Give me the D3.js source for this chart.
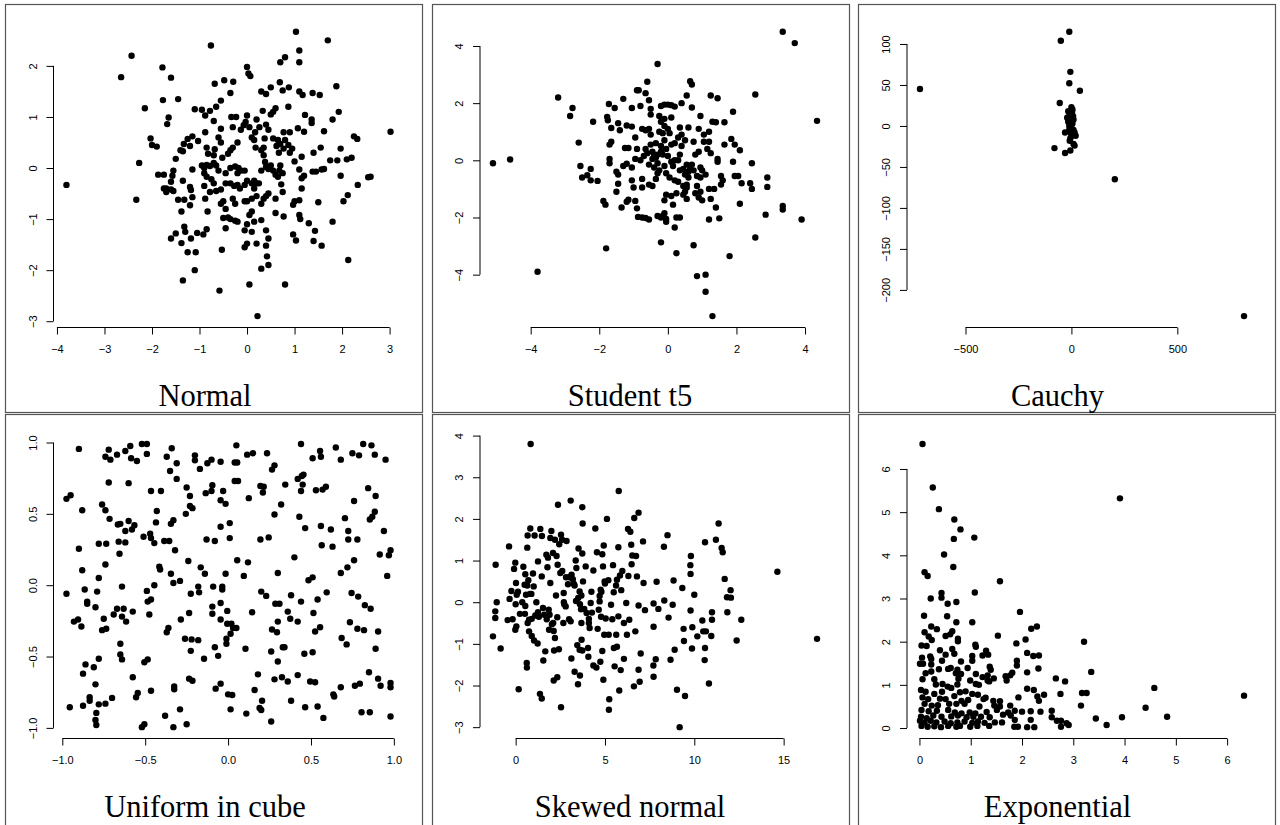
<!DOCTYPE html>
<html>
<head>
<meta charset="utf-8">
<script src="https://cdn.jsdelivr.net/npm/d3@7"></script>
<style>
  body { margin: 0; background: #fff; }
  svg { display: block; }
</style>
</head>
<body>
<script>
//**********************************
// data
//**********************************
var normalPts = [
[-3.8,-0.33],[-2.43,2.2],[-2.65,1.78],[-2.33,-0.62],[-2.27,0.1],[-2.15,1.17],[-0.76,2.4],[1.03,2.67],[1.7,2.5],[1.1,2.3],[1.1,2.07],[0.8,2.17],[0.7,2.07],[-1.78,1.97],[-1.6,1.77],[-1.77,1.33],[-1.45,1.35],[0,1.98],[0.03,1.85],[0.07,1.8],[-0.48,1.72],[-0.68,1.65],[-0.29,1.69],[-0.35,1.47],[-0.55,1.32],[-0.65,1.2],[-0.78,1.12],[-1.1,1.15],[-0.95,1.14],[-0.88,1.03],[-0.7,0.92],[-0.33,1.0],[-0.23,1.0],[-0.3,0.8],[0,1.03],[-0.03,0.9],[-0.07,0.84],[0.2,0.95],[0.3,1.5],[0.4,1.45],[0.5,1.58],[0.69,1.68],[0.75,1.52],[0.88,1.58],[1.1,1.5],[1.17,1.43],[1.38,1.47],[1.53,1.43],[1.88,1.6],[1.93,1.1],[1.8,0.95],[1.62,0.72],[1.22,1.04],[1.36,0.95],[1.36,0.88],[1.2,0.71],[1.07,0.78],[0.87,1.2],[0.6,1.17],[0.55,1.1],[0.33,1.12],[0.5,1.05],[0.4,0.85],[0.26,0.8],[0.17,0.7],[0.15,0.55],[0.45,0.75],[0.37,0.58],[0.55,0.58],[0.65,0.55],[0.7,0.47],[0.77,0.7],[0.77,0.38],[0.9,0.7],[0.87,0.45],[0.95,0.38],[0.9,0.3],[0.8,0.55],[0.62,0.43],[0.67,0.3],[0.35,0.4],[0.35,0.25],[0.38,0.12],[0.4,0.02],[0.5,0.05],[0.55,-0.05],[0.6,-0.13],[0.68,-0.05],[0.75,-0.1],[0.7,0.05],[1.0,0.13],[1.1,-0.03],[1.15,-0.2],[1.2,-0.15],[1.15,0.22],[1.4,0.3],[1.55,0.4],[1.38,-0.07],[1.45,-0.07],[1.57,-0.03],[1.62,-0.02],[1.75,0.15],[1.9,0.15],[1.97,0.38],[2.25,0.62],[2.32,0.57],[2.1,0.17],[2.2,0.2],[1.97,-0.15],[2.33,-0.33],[2.55,-0.18],[2.6,-0.17],[3.02,0.71],[2.12,-0.53],[2.03,-0.65],[2.13,-1.8],[1.8,-1.05],[1.5,-0.67],[1.3,-1.08],[1.43,-1.23],[1.4,-1.43],[1.57,-1.52],[1.1,-0.92],[1.12,-1.0],[1.1,-0.63],[1.15,-0.4],[0.97,-0.72],[1.0,-0.65],[0.97,-1.3],[1.03,-1.42],[0.77,-0.95],[0.6,-0.88],[0.6,-0.6],[0.72,-0.32],[0.75,-0.47],[0.65,-0.17],[0.4,-0.55],[0.45,-0.5],[0.35,-0.6],[0.2,-0.3],[0.25,-0.3],[0.15,-0.25],[0.1,-0.3],[0,-0.25],[-0.05,-0.33],[-0.15,-0.4],[-0.2,-0.33],[-0.27,-0.35],[-0.35,-0.3],[-0.45,-0.3],[-0.55,-0.42],[-0.65,-0.45],[-0.78,-0.47],[-0.7,-0.3],[-0.75,-0.22],[-0.85,-0.17],[-0.9,-0.35],[-0.5,-0.65],[-0.55,-0.7],[-0.3,-0.6],[-0.25,-0.7],[-0.45,-0.8],[-0.5,-0.98],[-0.4,-0.97],[-0.35,-1.0],[-0.25,-1.03],[-0.45,-1.18],[-0.88,-0.6],[-0.83,-0.85],[-0.85,-1.2],[-0.92,-1.3],[-1.05,-1.27],[-1.08,-1.65],[-1.1,-2.0],[-1.35,-2.2],[-1.25,-1.65],[-1.38,-1.47],[-1.5,-1.28],[-1.6,-1.38],[-1.18,-1.38],[-1.3,-1.25],[-1.32,-1.15],[-1.38,-0.85],[-1.45,-0.62],[-1.32,-0.62],[-1.15,-0.57],[-1.2,-0.37],[-1.18,-0.43],[-1.2,-0.73],[-1.35,-0.25],[-1.55,-0.45],[-1.6,-0.42],[-1.6,-0.27],[-1.57,-0.15],[-1.55,-0.05],[-1.7,-0.4],[-1.75,-0.4],[-1.87,-0.13],[-1.75,-0.13],[-1.7,-0.47],[-2.0,0.45],[-2.03,0.58],[-1.9,0.42],[-1.65,0.99],[-1.68,0.86],[-1.5,0.18],[-1.4,0.35],[-1.35,0.33],[-1.33,0.47],[-1.25,0.57],[-1.15,0.62],[-1.2,0.43],[-1.15,-0.03],[-1.03,0.53],[-0.88,0.7],[-0.85,0.4],[-0.82,0.28],[-0.78,0.04],[-0.85,0.06],[-0.95,0.05],[-0.9,0.0],[-0.9,-0.1],[-0.7,0.1],[-0.7,0.25],[-0.68,0.37],[-0.6,0.6],[-0.55,0.77],[-0.55,0.5],[-0.52,0.2],[-0.6,-0.05],[-0.65,0.05],[-0.45,-0.1],[-0.4,0.28],[-0.35,0.35],[-0.3,0.4],[-0.35,0.0],[-0.25,0.03],[-0.18,0.0],[-0.12,-0.05],[-0.2,-0.1],[-0.05,-0.05],[-0.2,0.5],[-0.13,0.75],[0.1,0.6],[0.05,0.8],[0.18,0.4],[0.3,0.35],[0.3,-0.05],[0.45,-0.02],[0.3,-0.7],[0.2,-0.55],[0.15,-0.4],[0.1,-0.6],[0,-0.65],[-0.05,-0.65],[0.1,-0.85],[0.05,-0.92],[0.15,-1.05],[0.3,-1.02],[0.4,-1.22],[0.45,-1.38],[0.4,-1.52],[0.42,-1.73],[0.45,-1.9],[0.3,-1.97],[0.2,-1.48],[0.1,-1.25],[-0.05,-1.22],[0,-1.1],[0,-1.48],[-0.05,-1.55],[0.05,-2.28],[0.22,-2.9],[0.8,-2.28],[-0.58,-2.4],[-0.53,-1.6],[-0.2,-1.05]
];

var studentPts = [
[-5.1,-0.1],[-4.6,0.03],[-3.8,-3.9],[-3.2,2.2],[-2.85,1.55],[-2.78,1.83],[-2.6,0.62],[-2.55,-0.2],[-2.5,-0.6],[-2.35,-0.52],[-2.25,-0.3],[-2.18,1.35],[-2.25,-0.7],[-2.05,-0.72],[-1.88,-1.42],[-1.82,-1.55],[-1.8,-3.08],[-1.77,1.52],[-1.75,1.4],[-1.72,1.97],[-1.7,0.55],[-1.65,0.65],[-1.7,0.05],[-1.7,-0.1],[-1.65,1.13],[-1.55,1.83],[-1.45,1.3],[-1.4,1.05],[-1.5,-0.4],[-1.45,-0.5],[-1.45,-0.82],[-1.5,-1.1],[-1.35,-1.65],[-1.3,2.15],[-1.2,1.22],[-1.25,0.43],[-1.15,0.43],[-1.3,-0.2],[-1.2,-0.12],[-1.15,-1.38],[-1.2,-1.45],[-1.05,1.83],[-1.05,1.18],[-0.95,0.8],[-0.9,2.45],[-0.85,2.45],[-0.8,1.9],[-0.9,0.4],[-0.95,0.05],[-1.05,-0.25],[-1.05,-0.7],[-1.0,-0.95],[-0.95,-1.42],[-0.9,-1.68],[-0.87,-1.98],[-0.75,-2.0],[-0.65,-2.02],[-0.55,-2.07],[-0.75,-0.65],[-0.75,-0.95],[-0.75,1.1],[-0.65,1.05],[-0.65,2.35],[-0.6,2.75],[-0.55,2.1],[-0.5,1.8],[-0.5,1.6],[-0.55,1.1],[-0.5,0.9],[-0.8,0.0],[-0.7,0.15],[-0.65,0.4],[-0.6,0.25],[-0.55,-0.15],[-0.5,0.55],[-0.45,0.3],[-0.45,0.05],[-0.4,-0.25],[-0.35,0.6],[-0.35,0.1],[-0.3,-0.1],[-0.3,-0.45],[-0.35,-0.65],[-0.55,-0.85],[-0.45,-0.9],[-0.3,3.37],[-0.25,1.55],[-0.2,1.9],[-0.1,1.95],[0,1.95],[0.1,1.93],[0.2,1.88],[0.4,2.0],[0.55,2.27],[0.65,2.77],[0.7,2.65],[0.7,1.85],[0.95,1.55],[1.25,2.27],[1.45,2.17],[-0.2,1.35],[-0.1,1.45],[0.1,1.5],[-0.1,1.2],[-0.25,1.0],[-0.15,0.95],[0,1.1],[0.05,0.95],[0.35,1.15],[0.6,1.15],[0.4,0.9],[0.3,0.8],[0.5,0.7],[0.2,0.6],[0.1,0.55],[-0.1,0.7],[-0.05,0.4],[-0.2,0.5],[-0.15,0.2],[0,0.15],[0.1,-0.05],[0.15,-0.2],[-0.1,-0.2],[-0.05,-0.45],[0.05,-0.6],[0.2,-0.7],[0.3,-0.75],[0.45,-0.3],[0.5,-0.5],[0.55,-0.15],[0.65,-0.3],[0.6,-0.6],[0.55,-0.85],[0.45,-0.9],[0.5,-1.1],[0.55,-1.35],[0.45,-1.2],[0.25,-1.15],[0.1,-1.25],[0.15,-1.55],[-0.05,-1.2],[-0.1,-1.4],[-0.1,-1.85],[-0.15,-1.95],[-0.2,-2.0],[-0.3,-1.95],[-0.05,-2.05],[-0.05,-2.15],[0.25,-2.0],[0.35,-2.0],[0.2,-2.35],[-0.2,-2.87],[0.25,-3.25],[0.75,-2.97],[0.85,-4.05],[1.1,-4.0],[1.1,-4.6],[1.3,-5.45],[1.8,-3.35],[0.7,-0.15],[0.75,-0.35],[0.85,-0.55],[0.95,-0.25],[1.0,-0.35],[0.95,-0.6],[0.85,-0.9],[0.8,-1.15],[0.9,-1.3],[1.0,-1.4],[0.95,-1.1],[1.1,-0.5],[0.8,0.2],[0.9,0.3],[0.75,0.65],[0.9,1.1],[1.05,0.9],[1.05,0.65],[1.2,0.65],[1.2,1.0],[1.15,0.4],[1.25,0.25],[1.3,1.35],[1.4,1.33],[1.45,0.05],[1.45,-0.05],[1.55,-0.55],[1.6,-0.7],[1.55,-0.85],[1.65,0.55],[1.65,1.33],[1.85,0.75],[1.9,1.7],[1.95,0.55],[1.9,-0.05],[1.95,-0.55],[2.05,-0.55],[2.1,0.35],[2.15,-0.8],[2.1,-1.52],[1.2,-1.0],[1.35,-1.0],[1.25,-1.35],[1.4,-1.65],[1.2,-2.07],[1.5,-2.03],[2.45,-0.1],[2.4,-0.8],[2.45,-1.0],[2.55,2.3],[2.55,-2.7],[2.85,-1.9],[2.9,-0.6],[2.9,-0.93],[3.35,-1.6],[3.35,-1.72],[3.35,4.5],[3.7,4.1],[3.9,-2.07],[4.35,1.38],[-0.4,0.2],[-0.3,0.2],[-0.25,-0.35],[-0.2,0.3],[0.3,0.0],[0.35,-0.35],[0.4,0.5],[0.35,0.2],[0.55,-0.95],[0.6,-0.4],[0.2,0.0]
];

var cauchyPts = [
[-715,45],[-10,115],[-50,104],[-5,66],[-10,52],[40,43],[-55,28],[0,23],[-15,18],[0,15],[-10,12],[-20,10],[10,8],[-5,6],[5,3],[-10,0],[0,-2],[10,-5],[-10,-5],[-30,-8],[15,-8],[0,-12],[20,-12],[-5,-15],[10,-22],[15,-24],[-80,-27],[-5,-30],[-30,-33],[205,-65],[815,-232],[5,20],[-5,0],[5,-10],[-15,5],[0,8],[-8,-18],[8,12],[-3,-8],[3,17]
];

var uniformPts = [
[-0.9,0.955],[-0.72,0.95],[-0.74,0.9],[-0.71,0.88],[-0.67,0.915],[-0.62,0.94],[-0.59,0.975],[-0.585,0.89],[-0.55,0.87],[-0.52,0.99],[-0.49,0.99],[-0.49,0.92],[-0.37,0.9],[-0.34,0.96],[-0.35,0.8],[-0.31,0.855],[-0.31,0.745],[-0.2,0.91],[-0.2,0.875],[-0.17,0.815],[-0.125,0.855],[-0.1,0.88],[-0.045,0.865],[0.04,0.86],[0.055,0.86],[0.05,0.98],[0.04,0.73],[0.06,0.73],[0.115,0.915],[0.15,0.925],[0.235,0.925],[0.265,0.81],[0.28,0.84],[0.44,0.99],[0.51,0.89],[0.555,0.94],[0.56,0.9],[0.65,0.965],[0.68,0.88],[0.75,0.925],[0.79,0.91],[0.815,0.99],[0.865,0.98],[0.885,0.915],[0.95,0.88],
[-0.975,0.605],[-0.95,0.63],[-0.88,0.525],[-0.76,0.565],[-0.74,0.525],[-0.72,0.72],[-0.715,0.465],[-0.665,0.425],[-0.65,0.43],[-0.6,0.715],[-0.6,0.45],[-0.62,0.38],[-0.58,0.39],[-0.565,0.42],[-0.465,0.66],[-0.43,0.52],[-0.435,0.44],[-0.405,0.66],[-0.33,0.455],[-0.345,0.43],[-0.255,0.5],[-0.25,0.685],[-0.23,0.625],[-0.23,0.555],[-0.215,0.54],[-0.135,0.645],[-0.1,0.66],[-0.095,0.7],[-0.045,0.595],[-0.03,0.66],[-0.015,0.57],[-0.045,0.41],[0.01,0.435],[0.125,0.61],[0.195,0.695],[0.215,0.69],[0.21,0.65],[0.345,0.705],[0.32,0.565],[0.28,0.495],[0.43,0.48],[0.44,0.66],[0.445,0.765],[0.455,0.775],[0.45,0.705],[0.42,0.745],[0.465,0.4],[0.53,0.665],[0.56,0.415],[0.57,0.67],[0.59,0.69],[0.565,0.28],[0.62,0.39],[0.705,0.47],[0.725,0.38],[0.76,0.59],[0.78,0.32],[0.845,0.68],[0.855,0.46],[0.87,0.48],[0.885,0.515],[0.89,0.625],[0.94,0.38],
[-0.9,0.255],[-0.88,0.105],[-0.78,0.29],[-0.735,0.29],[-0.74,0.145],[-0.78,0.05],[-0.66,0.305],[-0.655,0.22],[-0.62,0.3],[-0.51,0.34],[-0.47,0.36],[-0.465,0.33],[-0.445,0.295],[-0.385,0.31],[-0.355,0.31],[-0.32,0.245],[-0.415,0.13],[-0.41,0.11],[-0.345,0.08],[-0.33,0.015],[-0.29,0.03],[-0.24,0.17],[-0.165,0.125],[-0.14,0.08],[-0.13,0.32],[-0.08,0.31],[0.01,0.33],[-0.015,0.08],[0.055,0.175],[0.12,0.16],[0.095,0.065],[0.195,0.32],[0.245,0.335],[0.3,0.085],[0.4,0.195],[0.485,0.035],[0.51,0.055],[0.63,0.27],[0.68,0.085],[0.725,0.32],[0.72,0.125],[0.76,0.175],[0.96,0.065],[0.915,0.215],[0.97,0.21],[0.98,0.245],
[-0.975,-0.06],[-0.865,-0.03],[-0.85,-0.115],[-0.85,-0.13],[-0.93,-0.255],[-0.905,-0.24],[-0.885,-0.29],[-0.8,-0.155],[-0.79,-0.045],[-0.75,-0.235],[-0.76,-0.315],[-0.735,-0.305],[-0.69,-0.205],[-0.67,-0.165],[-0.64,-0.01],[-0.64,-0.22],[-0.63,-0.165],[-0.615,-0.255],[-0.575,-0.185],[-0.65,-0.41],[-0.65,-0.485],[-0.64,-0.52],[-0.49,-0.04],[-0.485,-0.115],[-0.465,-0.1],[-0.475,-0.205],[-0.445,0.0],[-0.37,-0.33],[-0.36,-0.3],[-0.285,-0.24],[-0.26,-0.375],[-0.235,-0.195],[-0.225,-0.06],[-0.22,-0.38],[-0.18,-0.385],[-0.18,-0.01],[-0.175,-0.05],[-0.095,-0.15],[-0.095,-0.2],[-0.09,-0.01],[-0.035,-0.01],[-0.035,-0.03],[-0.045,-0.125],[-0.045,-0.24],[-0.005,-0.18],[-0.005,-0.27],[0.02,-0.27],[0.03,-0.3],[0.05,-0.3],[0.015,-0.34],[-0.01,-0.375],[-0.01,-0.41],[0.145,-0.19],[0.2,-0.045],[0.23,-0.075],[0.285,-0.13],[0.31,-0.13],[0.3,-0.255],[0.265,-0.31],[0.295,-0.33],[0.33,-0.435],[0.38,-0.07],[0.36,-0.185],[0.375,-0.235],[0.42,-0.255],[0.44,-0.115],[0.515,-0.195],[0.525,-0.325],[0.54,-0.1],[0.555,-0.295],[0.595,-0.05],[0.735,-0.26],[0.745,-0.055],[0.785,-0.08],[0.78,-0.305],[0.82,-0.315],[0.825,-0.14],[0.86,-0.165],[0.905,-0.325],[0.685,-0.37],[0.715,-0.415],[0.89,-0.445],
[-0.955,-0.855],[-0.875,-0.62],[-0.875,-0.845],[-0.86,-0.555],[-0.835,-0.785],[-0.835,-0.81],[-0.81,-0.575],[-0.8,-0.695],[-0.795,-0.895],[-0.8,-0.945],[-0.795,-0.98],[-0.78,-0.515],[-0.78,-0.835],[-0.74,-0.83],[-0.7,-0.79],[-0.575,-0.645],[-0.555,-0.785],[-0.545,-0.755],[-0.52,-0.995],[-0.505,-0.975],[-0.505,-0.54],[-0.485,-0.52],[-0.465,-0.74],[-0.38,-0.915],[-0.325,-0.71],[-0.325,-0.73],[-0.33,-0.995],[-0.29,-0.87],[-0.25,-0.975],[-0.225,-0.46],[-0.235,-0.655],[-0.215,-0.67],[-0.145,-0.515],[-0.08,-0.435],[-0.06,-0.495],[-0.045,-0.69],[-0.075,-0.725],[0.0,-0.765],[0.025,-0.77],[0.015,-0.87],[0.105,-0.445],[0.11,-0.9],[0.16,-0.735],[0.18,-0.625],[0.19,-0.86],[0.2,-0.875],[0.205,-0.81],[0.26,-0.465],[0.26,-0.955],[0.28,-0.66],[0.3,-0.535],[0.325,-0.645],[0.34,-0.435],[0.36,-0.675],[0.38,-0.81],[0.42,-0.63],[0.46,-0.48],[0.465,-0.855],[0.495,-0.675],[0.51,-0.47],[0.525,-0.68],[0.54,-0.85],[0.575,-0.93],[0.635,-0.765],[0.64,-0.78],[0.68,-0.715],[0.765,-0.705],[0.795,-0.69],[0.805,-0.89],[0.855,-0.89],[0.85,-0.61],[0.905,-0.655],[0.92,-0.705],[0.98,-0.685],[0.98,-0.715],[0.98,-0.92]
];

var skewedPts = [
[0.84,3.8],[-1.27,-0.82],[-1.14,-0.22],[-1.14,-0.38],[-1.12,0.9],[-1.06,0.0],[-0.84,-1.11],[-0.45,-0.43],[-0.37,1.34],[-0.34,0.08],[-0.24,0.27],[-0.17,-0.41],[-0.09,0.8],[-0.02,0.95],[0.02,0.46],[-0.02,-0.66],[0.04,-0.58],[0.0,-0.05],[0.06,0.18],[0.13,0.25],[0.17,-2.09],[0.24,-0.28],[0.37,0.0],[0.43,0.85],[0.5,0.42],[0.52,-0.28],[0.54,0.67],[0.54,-0.09],[0.58,0.18],[0.62,-1.46],[0.63,-1.57],[0.65,1.31],[0.67,1.6],[0.71,0.53],[0.67,-0.5],[0.75,-0.42],[0.75,-0.7],[0.82,1.77],[0.88,0.2],[0.9,-0.81],[0.97,0.69],[1.01,0.38],[1.06,1.6],[1.1,-0.32],[1.03,-0.92],[1.16,0.0],[1.25,-0.24],[1.23,-0.99],[1.25,0.98],[1.38,1.76],[1.46,0.62],[1.36,-2.2],[1.46,-2.31],[1.47,1.59],[1.53,-0.14],[1.55,-1.4],[1.66,-1.18],[1.74,-0.41],[1.72,1.14],[1.78,0.84],[1.81,1.07],[1.85,-0.18],[1.87,-0.66],[1.94,0.46],[1.94,1.54],[2.0,1.71],[2.03,-0.53],[2.09,1.18],[2.13,-1.88],[2.13,-0.69],[2.15,-1.16],[2.2,-0.86],[2.26,0.16],[2.29,1.11],[2.33,-1.8],[2.37,2.34],[2.35,0.9],[2.33,-0.36],[2.44,1.39],[2.42,-1.13],[2.54,-2.52],[2.54,1.62],[2.61,0.75],[2.67,-0.5],[2.69,0.22],[2.72,-0.05],[2.8,-0.1],[2.82,0.6],[2.85,1.47],[2.93,0.43],[2.99,-0.41],[3.08,2.44],[3.08,-0.46],[3.12,-1.35],[3.13,0.66],[3.26,0.44],[3.3,-1.67],[3.36,1.0],[3.38,0.03],[3.4,0.82],[3.45,-1.03],[3.49,-1.97],[3.52,1.29],[3.58,0.26],[3.58,-1.14],[3.6,-1.76],[3.66,-0.17],[3.68,0.16],[3.68,-0.5],[3.69,-0.9],[3.73,2.28],[3.73,1.17],[3.73,-1.16],[3.75,1.89],[3.77,0.5],[3.84,-0.16],[3.92,0.86],[3.97,-0.26],[4.05,-1.1],[4.07,-1.31],[4.1,-0.4],[4.14,-0.62],[4.2,-0.02],[4.24,0.25],[4.27,-0.25],[4.35,0.76],[4.35,-1.52],[4.46,1.77],[4.52,-1.57],[4.55,1.2],[4.59,-0.64],[4.65,-0.18],[4.7,0.02],[4.74,-1.43],[4.76,0.3],[4.78,-0.35],[4.85,1.15],[4.85,-1.17],[4.89,0.86],[4.91,-1.86],[4.93,1.36],[4.96,-0.78],[4.98,0.5],[5.04,-0.39],[5.11,2.0],[5.19,0.53],[5.21,-0.78],[5.24,-2.33],[5.22,-2.58],[5.34,-0.06],[5.41,-0.41],[5.45,0.89],[5.49,0.24],[5.5,-1.1],[5.54,-1.54],[5.62,0.4],[5.63,-0.78],[5.67,-1.07],[5.67,0.54],[5.77,2.67],[5.75,1.32],[5.75,-0.34],[5.8,-2.12],[5.84,0.64],[5.88,-1.63],[5.91,0.29],[5.97,0.75],[6.06,-1.36],[6.06,-0.5],[6.19,-0.02],[6.23,-0.78],[6.29,1.76],[6.31,0.63],[6.36,-0.42],[6.42,1.69],[6.47,1.38],[6.49,0.91],[6.53,1.12],[6.62,-2.02],[6.64,2.02],[6.7,-0.7],[6.74,1.11],[6.79,0.62],[6.88,2.15],[6.88,-0.08],[6.88,-1.62],[6.94,-1.91],[7.0,-1.23],[7.13,1.46],[7.16,0.46],[7.24,-0.19],[7.72,-0.03],[7.72,-0.59],[7.71,-1.52],[7.72,-1.79],[7.84,-1.37],[7.89,0.49],[7.99,-0.16],[8.3,1.33],[8.32,0.04],[8.5,1.61],[8.56,-0.37],[8.67,-1.38],[8.79,-0.06],[8.84,0.52],[8.9,-1.14],[9.03,-2.1],[9.18,-3.0],[9.33,0.34],[9.4,-0.64],[9.42,-0.93],[9.48,-2.25],[9.78,0.89],[9.81,1.11],[9.79,0.68],[9.79,-0.2],[9.87,-1.11],[9.89,-0.6],[10.0,0.18],[10.17,-0.82],[10.45,-0.44],[10.5,-0.7],[10.58,-1.39],[10.6,-1.1],[10.6,1.44],[10.65,-0.7],[10.82,-1.95],[10.95,-0.81],[10.99,-0.24],[10.99,-0.42],[11.21,1.5],[11.36,1.89],[11.53,1.3],[11.59,1.2],[11.7,0.56],[11.85,-0.24],[11.83,0.12],[12.03,0.29],[12.05,0.11],[12.37,-0.92],[12.63,-0.42],[14.65,0.73],[16.87,-0.88],[2.5,0.7],[2.7,0.0],[3.3,0.4],[3.5,0.1],[1.9,-0.3],[2.1,-0.5],[1.6,-0.3],[1.3,-0.35],[0.8,0.2],[0.65,0.4],[0.9,-0.4],[3.0,0.6],[3.6,-0.05],[4.1,-0.5],[4.7,0.15],[4.8,0.25],[5.0,0.45],[3.2,0.55],[2.2,1.5],[2.6,1.5]
];

var expPts = [
[0.06,6.58],[0.26,5.57],[0.38,5.07],[0.68,4.83],[0.8,4.6],[0.67,4.38],[1.07,4.41],[0.48,4.02],[0.66,3.73],[0.1,3.61],[0.16,3.52],[1.57,3.4],[1.08,3.14],[0.43,3.13],[0.43,3.02],[0.22,3.0],[0.55,2.88],[0.72,2.92],[3.91,5.32],[0.09,2.6],[0.54,2.59],[1.96,2.69],[1.03,2.45],[0.72,2.45],[2.29,2.35],[2.18,2.3],[0.23,2.35],[0.34,2.29],[0.64,2.24],[0.51,2.13],[0.6,2.17],[0.75,2.07],[0.75,2.01],[0.1,2.22],[0.18,2.12],[0.24,2.04],[1.53,2.14],[2.07,2.05],[3.21,2.0],[1.89,1.96],[0.04,1.91],[0.14,1.9],[1.09,1.93],[1.1,1.88],[0.64,1.83],[0.4,1.8],[0.51,1.7],[0.68,1.72],[1.3,1.79],[1.34,1.7],[1.23,1.68],[2.1,1.74],[2.22,1.67],[2.33,1.68],[0.21,1.66],[0.05,1.63],[0.23,1.6],[0.44,1.56],[1.03,1.67],[1.03,1.56],[1.9,1.56],[1.9,1.45],[0.01,1.49],[0.07,1.49],[0.23,1.47],[0.81,1.54],[0.94,1.39],[0.56,1.37],[0.61,1.39],[0.38,1.36],[0.74,1.35],[1.37,1.42],[1.39,1.35],[2.32,1.38],[0.71,1.27],[0.81,1.25],[0.23,1.31],[0.12,1.27],[1.1,1.25],[1.23,1.18],[1.33,1.22],[1.81,1.28],[1.77,1.22],[1.68,1.2],[2.1,1.29],[3.35,1.3],[0.06,1.13],[0.29,1.13],[0.76,1.14],[0.99,1.1],[1.1,1.02],[1.16,1.0],[1.33,1.1],[1.36,1.08],[1.45,1.15],[1.7,1.1],[2.66,1.15],[2.84,1.08],[0.32,1.01],[0.45,1.02],[0.74,1.01],[0.03,0.88],[0.12,0.84],[0.29,0.79],[0.44,0.84],[0.55,0.96],[0.62,0.93],[0.79,0.83],[0.9,0.85],[1.03,0.79],[1.14,0.77],[1.29,0.7],[2.1,0.91],[2.23,0.88],[2.43,0.77],[2.3,0.73],[2.33,0.63],[2.75,0.79],[3.17,0.81],[3.26,0.81],[4.58,0.93],[6.33,0.75],[0.06,0.71],[0.17,0.67],[0.4,0.68],[0.51,0.67],[0.68,0.74],[0.82,0.63],[0.95,0.65],[1.25,0.67],[1.44,0.63],[1.57,0.62],[1.93,0.71],[0.1,0.56],[0.24,0.52],[0.36,0.53],[0.58,0.56],[0.72,0.56],[0.88,0.56],[1.17,0.5],[1.46,0.52],[1.57,0.5],[1.77,0.52],[3.15,0.52],[4.41,0.47],[0.04,0.42],[0.18,0.39],[0.34,0.4],[0.56,0.42],[0.69,0.36],[0.82,0.34],[0.98,0.36],[1.09,0.34],[1.31,0.37],[1.51,0.42],[1.73,0.36],[1.86,0.4],[2.0,0.38],[2.17,0.39],[2.36,0.38],[2.58,0.4],[0.03,0.26],[0.14,0.23],[0.27,0.29],[0.43,0.26],[0.62,0.27],[0.75,0.29],[0.92,0.25],[1.05,0.26],[1.2,0.26],[1.37,0.25],[1.63,0.31],[1.78,0.29],[2.58,0.25],[2.68,0.17],[3.44,0.22],[3.95,0.25],[4.83,0.26],[0.01,0.17],[0.1,0.13],[0.22,0.17],[0.33,0.13],[0.49,0.15],[0.61,0.11],[0.74,0.13],[0.88,0.15],[1.03,0.12],[1.14,0.15],[1.27,0.12],[1.47,0.13],[1.61,0.13],[1.86,0.19],[2.17,0.19],[2.76,0.17],[2.87,0.11],[0.04,0.05],[0.16,0.03],[0.29,0.04],[0.42,0.02],[0.56,0.05],[0.72,0.03],[0.79,0.05],[0.99,0.03],[1.13,0.05],[1.36,0.05],[1.85,0.03],[1.92,0.03],[2.1,0.02],[2.24,0.02],[2.76,0.03],[2.91,0.07],[3.65,0.07]
];

// tick labels per panel
var normalXTicks  = [-4, -3, -2, -1, 0, 1, 2, 3];
var normalYTicks  = [-3, -2, -1, 0, 1, 2];
var studentXTicks = [-4, -2, 0, 2, 4];
var studentYTicks = [-4, -2, 0, 2, 4];
var cauchyXTicks  = [-500, 0, 500];
var cauchyYTicks  = [-200, -150, -100, -50, 0, 50, 100];
var uniformXTicks = [-1.0, -0.5, 0.0, 0.5, 1.0];
var uniformYTicks = [-1.0, -0.5, 0.0, 0.5, 1.0];
var skewedXTicks  = [0, 5, 10, 15];
var skewedYTicks  = [-3, -2, -1, 0, 1, 2, 3, 4];
var expXTicks     = [0, 1, 2, 3, 4, 5, 6];
var expYTicks     = [0, 1, 2, 3, 4, 5, 6];

var titles = ["Normal", "Student t5", "Cauchy", "Uniform in cube", "Skewed normal", "Exponential"];

//**********************************
// layout
//**********************************
var W = 1280, H = 825;
var boxLeft  = [5, 432, 858];
var boxTop   = [4, 414];
var boxW = 417;
var boxH = [408, 420];
var plotX = [[53.5, 403.5], [480, 830], [907, 1257]];
var plotY = [[20.3, 327.5], [432.6, 738.5]];
var titleX = [205, 630, 1057.5];
var titleY = [406, 817];

var svg = d3.select("body").append("svg")
	.attr("width", W)
	.attr("height", H);

var minus = function(s) { return s.replace("-", "\u2212"); };
var intFmt = function(d) { return minus(d3.format("d")(d)); };
var decFmt = function(d) { return minus(d3.format(".1f")(d)); };

// R style range: data extent padded by 4% each side
var padDomain = function(ext) {
	var r = ext[1] - ext[0];
	return [ext[0] - 0.04 * r, ext[1] + 0.04 * r];
};

var drawPanel = function(i, pts, xTicks, yTicks, fmt)
{
	var col = i % 3, row = Math.floor(i / 3);
	var g = svg.append("g");

	g.append("rect")
		.attr("x", boxLeft[col] + 0.5)
		.attr("y", boxTop[row] + 0.5)
		.attr("width", boxW)
		.attr("height", boxH[row])
		.style("fill", "none")
		.style("stroke", "#555")
		.style("stroke-width", 1.2);

	var x = d3.scaleLinear()
		.domain(padDomain(d3.extent(pts, function(d){ return d[0]; })))
		.range(plotX[col]);
	var y = d3.scaleLinear()
		.domain(padDomain(d3.extent(pts, function(d){ return d[1]; })))
		.range([plotY[row][1], plotY[row][0]]);

	var bottom = plotY[row][1], left = plotX[col][0];

	// x axis
	var gx = g.append("g")
		.attr("transform", "translate(0," + bottom + ")")
		.call(d3.axisBottom(x).tickValues(xTicks).tickFormat(fmt).tickSize(7).tickSizeOuter(0).tickPadding(11));
	gx.select(".domain").remove();
	gx.append("line")
		.attr("x1", x(xTicks[0]))
		.attr("x2", x(xTicks[xTicks.length - 1]))
		.style("stroke", "#000");

	// y axis, labels turned parallel to the axis
	var gy = g.append("g")
		.attr("transform", "translate(" + left + ",0)")
		.call(d3.axisLeft(y).tickValues(yTicks).tickFormat(fmt).tickSize(7).tickSizeOuter(0));
	gy.select(".domain").remove();
	gy.append("line")
		.attr("y1", y(yTicks[0]))
		.attr("y2", y(yTicks[yTicks.length - 1]))
		.style("stroke", "#000");
	gy.selectAll(".tick text")
		.attr("transform", "rotate(-90)")
		.attr("x", 0)
		.attr("y", -17)
		.attr("dy", 0)
		.style("text-anchor", "middle");

	g.selectAll(".tick line").style("stroke", "#000");
	g.selectAll(".tick text")
		.style("font-family", "'Liberation Sans', Arial, sans-serif")
		.style("font-size", "11px")
		.style("fill", "#000");

	g.selectAll(".pt").data(pts)
		.enter()
		.append("circle")
		.attr("class", "pt")
		.attr("cx", function(d){ return x(d[0]); })
		.attr("cy", function(d){ return y(d[1]); })
		.attr("r", 3.2)
		.style("fill", "#000");

	g.append("text")
		.attr("x", titleX[col])
		.attr("y", titleY[row])
		.style("text-anchor", "middle")
		.style("font-family", "'Liberation Serif', 'Times New Roman', serif")
		.style("font-size", "30.5px")
		.style("fill", "#000")
		.text(titles[i]);
};

drawPanel(0, normalPts,  normalXTicks,  normalYTicks,  intFmt);
drawPanel(1, studentPts, studentXTicks, studentYTicks, intFmt);
drawPanel(2, cauchyPts,  cauchyXTicks,  cauchyYTicks,  intFmt);
drawPanel(3, uniformPts, uniformXTicks, uniformYTicks, decFmt);
drawPanel(4, skewedPts,  skewedXTicks,  skewedYTicks,  intFmt);
drawPanel(5, expPts,     expXTicks,     expYTicks,     intFmt);
</script>
</body>
</html>
